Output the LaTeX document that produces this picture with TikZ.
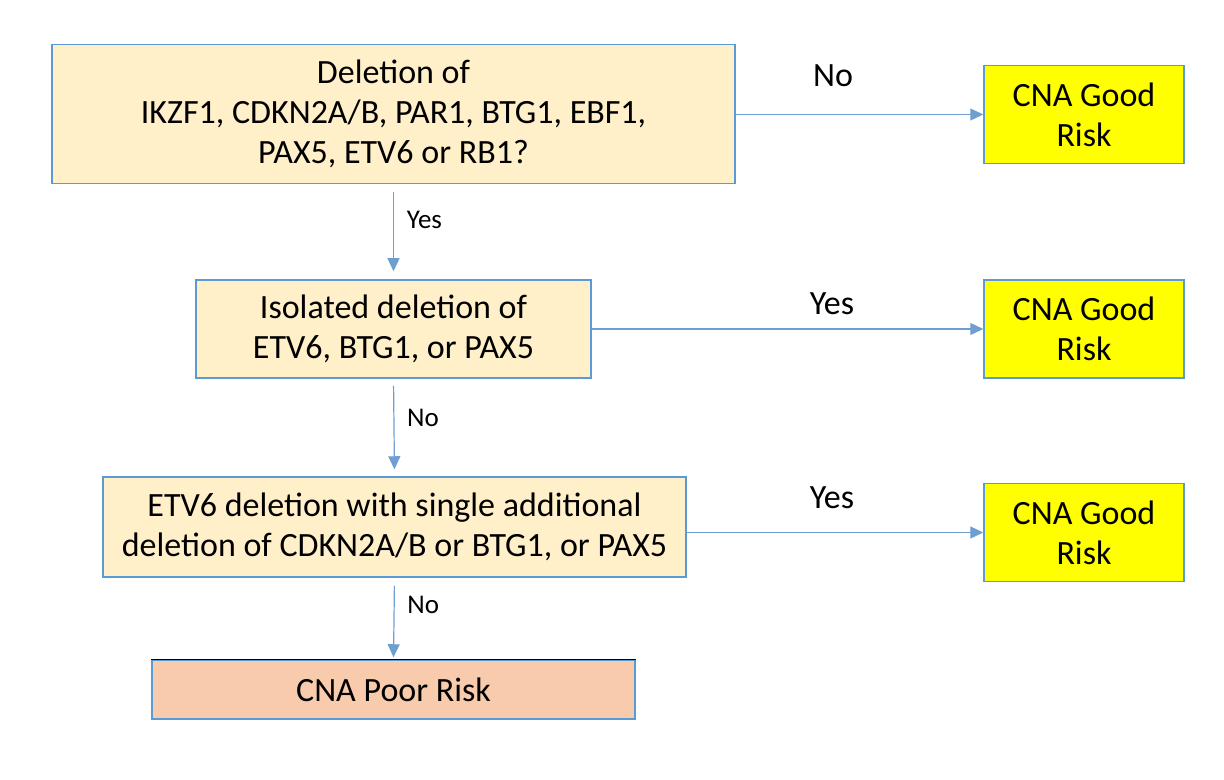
\documentclass[tikz,border=0pt]{standalone}
\usepackage{fontspec}
\setmainfont{Carlito}
\usepackage{tikz}
\usetikzlibrary{arrows.meta}
\definecolor{boxline}{HTML}{5B9BD5}
\definecolor{arrline}{HTML}{6F9FD0}
\definecolor{qfill}{HTML}{FFF0CA}
\definecolor{poorfill}{HTML}{F8CBAD}
\definecolor{goodfill}{HTML}{FFFF00}

\begin{document}
\begin{tikzpicture}[x=0.5pt, y=-0.5pt,
    qbox/.style={draw=boxline, line width=0.75pt, fill=qfill, align=center, inner sep=2pt,
                 font=\fontsize{17}{20}\selectfont},
    goodbox/.style={qbox, fill=goodfill, minimum width=100pt, minimum height=49pt},
    poorbox/.style={qbox, fill=poorfill},
    arr/.style={draw=arrline, line width=0.6pt, -{Triangle[width=6pt,length=6.5pt]}},
    small/.style={font=\fontsize{13.5}{15}\selectfont},
    big/.style={font=\fontsize{17}{20}\selectfont}]
      \useasboundingbox (0,0) rectangle (1224,780);
      % question boxes
      \node[qbox, minimum width=341.5pt, minimum height=69.5pt] (del) at (393.5,114)
            {Deletion of\\IKZF1, CDKN2A/B, PAR1, BTG1, EBF1,\\PAX5, ETV6 or RB1?};
      \node[qbox, minimum width=197.5pt, minimum height=49pt] (iso) at (393.5,329)
            {Isolated deletion of\\ETV6, BTG1, or PAX5};
      \node[qbox, minimum width=291.5pt, minimum height=50pt] (etv) at (394.5,527)
            {ETV6 deletion with single additional\\deletion of CDKN2A/B or BTG1, or PAX5};
      \node[poorbox, minimum width=241.5pt, minimum height=29.5pt] (poor) at (393.5,689.5) {CNA Poor Risk};
      \draw[line width=0.6pt] (poor.north west) -- (poor.north east);
      % outcome boxes
      \node[goodbox] (good1) at (1084,114.5) {CNA Good\\Risk};
      \node[goodbox] (good2) at (1084,329) {CNA Good\\Risk};
      \node[goodbox] (good3) at (1084,532.5) {CNA Good\\Risk};
      % horizontal arrows
      \draw[arr] (del.east |- good1.west) -- (good1.west);
      \draw[arr] (iso.east |- good2.west) -- (good2.west);
      \draw[arr] (etv.east |- good3.west) -- (good3.west);
      \node[big] (no1) at (833,76) {No};
      \node[big] (yes2) at (832,304) {Yes};
      \node[big] (yes3) at (832,498) {Yes};
      % vertical arrows
      \draw[arr, shorten <=4pt, shorten >=4pt] (del.south) -- (iso.north)
            node[small, right, pos=0.38, xshift=3pt] {Yes};
      \draw[arr, shorten <=3.5pt, shorten >=3.5pt] (iso.south) -- (etv.north)
            node[small, right, pos=0.4, xshift=3pt] {No};
      \draw[arr, shorten <=4pt, shorten >=1pt] (etv.south) -- (poor.north)
            node[small, right, pos=0.33, xshift=3pt] {No};
\end{tikzpicture}
\end{document}
